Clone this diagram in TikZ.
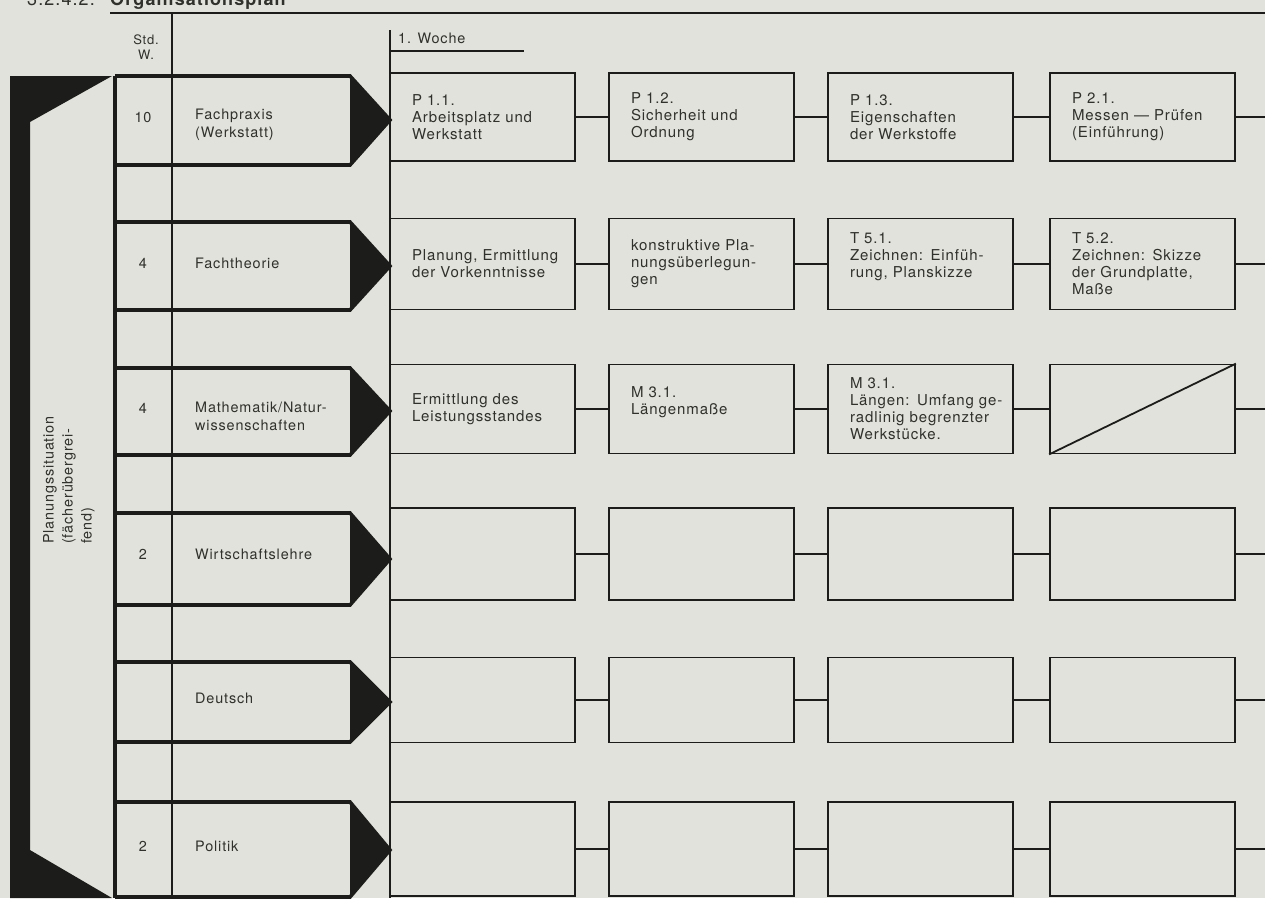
\documentclass[tikz,border=0pt]{standalone}
\usepackage{fontspec}
\setmainfont[LetterSpace=6]{TeX Gyre Heros}
\usepackage{tikz}
\definecolor{ink}{RGB}{28,28,26}
\definecolor{paper}{RGB}{226,226,220}
\definecolor{txt}{RGB}{48,48,44}
\tikzset{every picture/.style={x=1pt,y=-1pt}}
\tikzset{box/.style={draw=ink,line width=1.8,minimum width=185,minimum height=#1,text width=141,inner xsep=22,inner ysep=0,align=left,text=txt,font=\fontsize{15}{17}\selectfont}}
\tikzset{link/.style={ink,line width=1.8}}
\tikzset{rule/.style={ink,line width=2.4}}
\tikzset{subj/.style={ink,line width=3.6}}
\tikzset{annot/.style={text=txt,inner sep=0,font=\fontsize{14.4}{18}\selectfont}}

\begin{document}
\begin{tikzpicture}
\fill [paper] (0,0) rectangle (1265,898);
\useasboundingbox (0,0) rectangle (1265,898);

\node [annot,anchor=base west,font=\fontsize{18}{20}\selectfont] (num) at (27,5) {3.2.4.2.};
\node [annot,anchor=base west,font=\fontsize{18}{20}\selectfont\bfseries] (head) at (110,5) {Organisationsplan};
\draw [rule] (110,13) -- (1265,13);
\draw [rule] (172,13) -- (172,898);
\draw [rule] (390,30) -- (390,898);
\draw [rule] (390,51) -- (524,51);
\node [annot,align=center,font=\fontsize{13}{15}\selectfont] (stdw) at (146,47) {Std.\\W.};
\node [annot,anchor=west] (woche) at (398,38) {1. Woche};

\fill [ink] (10,76) -- (112,76) -- (30,122) -- (30,850) -- (112,898) -- (10,898) -- cycle;
\draw [subj] (115,76) -- (115,898);
\node [annot,rotate=90,align=left,font=\fontsize{14.4}{19}\selectfont] (plan) at (69,480) {Planungssituation\\(fächerübergrei-\\fend)};

\draw [subj] (115,76) -- (350,76) -- (390,120) -- (350,165) -- (115,165);
\fill [ink] (350,76) -- (390,120) -- (350,165) -- cycle;
\draw [subj] (115,222) -- (350,222) -- (390,266) -- (350,310) -- (115,310);
\fill [ink] (350,222) -- (390,266) -- (350,310) -- cycle;
\draw [subj] (115,368) -- (350,368) -- (390,411) -- (350,455) -- (115,455);
\fill [ink] (350,368) -- (390,411) -- (350,455) -- cycle;
\draw [subj] (115,513) -- (350,513) -- (390,559) -- (350,605) -- (115,605);
\fill [ink] (350,513) -- (390,559) -- (350,605) -- cycle;
\draw [subj] (115,662) -- (350,662) -- (390,702) -- (350,742) -- (115,742);
\fill [ink] (350,662) -- (390,702) -- (350,742) -- cycle;
\draw [subj] (115,802) -- (350,802) -- (390,850) -- (350,897) -- (115,897);
\fill [ink] (350,802) -- (390,850) -- (350,897) -- cycle;

\node [annot] (n1) at (143,117) {10};
\node [annot] (n2) at (143,263) {4};
\node [annot] (n3) at (143,408) {4};
\node [annot] (n4) at (143,554) {2};
\node [annot] (n6) at (143,846) {2};

\node [annot,anchor=west,align=left] (s1) at (195,125) {Fachpraxis\\(Werkstatt)};
\node [annot,anchor=west] (s2) at (195,263) {Fachtheorie};
\node [annot,anchor=west,align=left] (s3) at (195,416) {Mathematik/Natur-\\wissenschaften};
\node [annot,anchor=west] (s4) at (195,554) {Wirtschaftslehre};
\node [annot,anchor=west] (s5) at (195,698) {Deutsch};
\node [annot,anchor=west] (s6) at (195,846) {Politik};

\node [box=88] (b11) at (482.5,117) {P 1.1.\\Arbeitsplatz und\\Werkstatt};
\node [box=88] (b12) at (701.5,117) {P 1.2.\\Sicherheit und\\Ordnung};
\node [box=88] (b13) at (920.5,117) {P 1.3.\\Eigenschaften\\der Werkstoffe};
\node [box=88] (b14) at (1142.5,117) {P 2.1.\\\mbox{Messen — Prüfen}\\(Einführung)};
\coordinate (e1) at (1265,117);

\node [box=91] (b21) at (482.5,264) {\mbox{Planung, Ermittlung}\\der Vorkenntnisse};
\node [box=91] (b22) at (701.5,264) {\mbox{konstruktive Pla-}\\\mbox{nungsüberlegun-}\\gen};
\node [box=91] (b23) at (920.5,264) {T 5.1.\\\mbox{Zeichnen: Einfüh-}\\\mbox{rung, Planskizze}\\\mbox{}};
\node [box=91] (b24) at (1142.5,264) {T 5.2.\\\mbox{Zeichnen: Skizze}\\\mbox{der Grundplatte,}\\Maße};
\coordinate (e2) at (1265,264);

\node [box=89] (b31) at (482.5,409) {Ermittlung des\\Leistungsstandes};
\node [box=89] (b32) at (701.5,409) {M 3.1.\\Längenmaße\\\mbox{}};
\node [box=89] (b33) at (920.5,409) {M 3.1.\\\mbox{Längen: Umfang ge-}\\\mbox{radlinig begrenzter}\\Werkstücke.};
\node [box=89] (b34) at (1142.5,409) {};
\coordinate (e3) at (1265,409);

\node [box=92] (b41) at (482.5,554) {};
\node [box=92] (b42) at (701.5,554) {};
\node [box=92] (b43) at (920.5,554) {};
\node [box=92] (b44) at (1142.5,554) {};
\coordinate (e4) at (1265,554);

\node [box=85] (b51) at (482.5,700) {};
\node [box=85] (b52) at (701.5,700) {};
\node [box=85] (b53) at (920.5,700) {};
\node [box=85] (b54) at (1142.5,700) {};
\coordinate (e5) at (1265,700);

\node [box=94] (b61) at (482.5,849) {};
\node [box=94] (b62) at (701.5,849) {};
\node [box=94] (b63) at (920.5,849) {};
\node [box=94] (b64) at (1142.5,849) {};
\coordinate (e6) at (1265,849);

\draw [link] (b11) -- (b12);
\draw [link] (b12) -- (b13);
\draw [link] (b13) -- (b14);
\draw [link] (b14) -- (e1);

\draw [link] (b21) -- (b22);
\draw [link] (b22) -- (b23);
\draw [link] (b23) -- (b24);
\draw [link] (b24) -- (e2);

\draw [link] (b31) -- (b32);
\draw [link] (b32) -- (b33);
\draw [link] (b33) -- (b34);
\draw [link] (b34) -- (e3);
\draw [link] (b34.south west) -- (b34.north east);

\draw [link] (b41) -- (b42);
\draw [link] (b42) -- (b43);
\draw [link] (b43) -- (b44);
\draw [link] (b44) -- (e4);

\draw [link] (b51) -- (b52);
\draw [link] (b52) -- (b53);
\draw [link] (b53) -- (b54);
\draw [link] (b54) -- (e5);

\draw [link] (b61) -- (b62);
\draw [link] (b62) -- (b63);
\draw [link] (b63) -- (b64);
\draw [link] (b64) -- (e6);
\end{tikzpicture}
\end{document}
